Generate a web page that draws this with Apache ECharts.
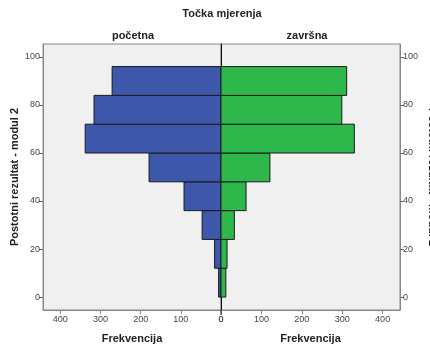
<!DOCTYPE html>
<html><head><meta charset="utf-8">
<script src="https://cdn.jsdelivr.net/npm/echarts@6/dist/echarts.min.js"></script>
<style>html,body{margin:0;padding:0;background:#fff}#c{width:430px;height:344px}</style>
</head><body><div id="c"></div>
<script>
// Bin edges (Postotni rezultat - modul 2)
const binStarts = [0, 12, 24, 36, 48, 60, 72, 84];
const binEnds   = [12, 24, 36, 48, 60, 72, 84, 96];
// Frequencies
const pocetna = [6, 16, 47, 92, 179, 338, 316, 271];
const zavrsna = [12, 15, 33, 62, 121, 330, 299, 311];
const yTicks = [0, 20, 40, 60, 80, 100];
const xTicks = [0, 100, 200, 300, 400];
const panelNames = ['početna', 'završna'];
const mainTitle = 'Točka mjerenja';
const yTitle = 'Postotni rezultat - modul 2';
const xTitle = 'Frekvencija';

const FONT = 'Liberation Sans, Arial, sans-serif';
const chart = echarts.init(document.getElementById('c'));

function rectItem(params, api) {
  const p1 = api.coord([0, api.value(1)]);
  const p2 = api.coord([api.value(0), api.value(2)]);
  return {
    type: 'rect',
    shape: {x: Math.min(p1[0], p2[0]), y: Math.min(p1[1], p2[1]),
            width: Math.abs(p2[0] - p1[0]), height: Math.abs(p2[1] - p1[1])},
    style: {fill: params.seriesIndex === 0 ? '#3d57aa' : '#2eb84b', stroke: '#1a1a1a', lineWidth: 1}
  };
}
const mk = arr => arr.map((v, i) => [v, binStarts[i], binEnds[i]]);

const tickLabel = {color: '#444', fontSize: 9, fontFamily: FONT};
function xAx(i, inverse) {
  return {
    type: 'value', gridIndex: i, min: 0, max: 443, inverse: inverse,
    axisLine: {show: true, onZero: false, lineStyle: {color: '#888'}},
    axisTick: {show: true, length: 4, lineStyle: {color: '#888'}, customValues: xTicks},
    axisLabel: Object.assign({customValues: xTicks, margin: 5}, tickLabel),
    splitLine: {show: false},
    name: xTitle, nameLocation: 'middle', nameGap: 23,
    nameTextStyle: {fontFamily: FONT, fontWeight: 'bold', fontSize: 11, color: '#222'}
  };
}
const yBase = {
  type: 'value', min: -5.4, max: 105.4,
  axisLine: {show: true, onZero: false, lineStyle: {color: '#888'}},
  axisTick: {show: true, length: 4, lineStyle: {color: '#666'}, customValues: yTicks},
  axisLabel: Object.assign({customValues: yTicks, margin: 3}, tickLabel),
  splitLine: {show: false},
  name: yTitle, nameLocation: 'middle',
  nameTextStyle: {fontFamily: FONT, fontWeight: 'bold', fontSize: 11, color: '#222'}
};

chart.setOption({
  animation: false,
  grid: [
    {left: 43, right: 209, top: 44, bottom: 34, outerBoundsMode: 'none', containLabel: false, show: true, backgroundColor: '#f0f0f0', borderColor: '#888', borderWidth: 1},
    {left: 221, right: 30, top: 44, bottom: 34, outerBoundsMode: 'none', containLabel: false, show: true, backgroundColor: '#f0f0f0', borderColor: '#888', borderWidth: 1}
  ],
  xAxis: [xAx(0, true), xAx(1, false)],
  yAxis: [
    Object.assign({}, yBase, {gridIndex: 0, position: 'left', nameGap: 23, nameRotate: 90}),
    Object.assign({}, yBase, {gridIndex: 1, position: 'right', nameGap: 27, nameRotate: -90}),
    {type: 'value', gridIndex: 1, position: 'left', min: -5.4, max: 105.4,
     axisLine: {show: true, onZero: false, lineStyle: {color: '#111'}}, axisTick: {show: false},
     axisLabel: {show: false}, splitLine: {show: false}}
  ],
  series: [
    {type: 'custom', xAxisIndex: 0, yAxisIndex: 0, renderItem: rectItem,
     encode: {x: 0, y: [1, 2]}, data: mk(pocetna)},
    {type: 'custom', xAxisIndex: 1, yAxisIndex: 1, renderItem: rectItem,
     encode: {x: 0, y: [1, 2]}, data: mk(zavrsna)}
  ],
  graphic: [
    {type: 'text', x: 222, y: 14, style: {text: mainTitle, textAlign: 'center', textVerticalAlign: 'middle', font: 'bold 11px ' + FONT, fill: '#222'}},
    {type: 'text', x: 133, y: 36, style: {text: panelNames[0], textAlign: 'center', textVerticalAlign: 'middle', font: 'bold 11px ' + FONT, fill: '#222'}},
    {type: 'text', x: 307, y: 36, style: {text: panelNames[1], textAlign: 'center', textVerticalAlign: 'middle', font: 'bold 11px ' + FONT, fill: '#222'}},
    {type: 'line', z: 100, shape: {x1: 221, y1: 310, x2: 221, y2: 315}, style: {stroke: '#111', lineWidth: 1}}
  ]
});
</script></body></html>
